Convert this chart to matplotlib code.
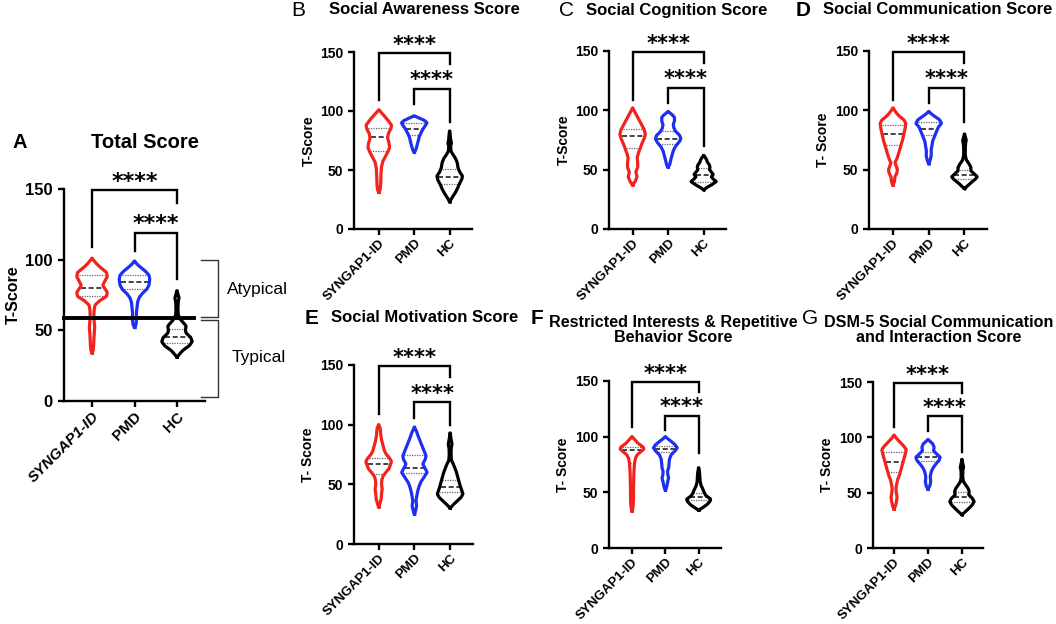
import numpy as np
import matplotlib.pyplot as plt

plt.rcParams['font.family'] = ['Liberation Sans', 'DejaVu Sans']

groups = ['SYNGAP1-ID', 'PMD', 'HC']
group_colors = ['#f2231c', '#1d30f2', '#000000']

# violin outlines: T-score levels and relative half-widths
# A - Total Score
total_syn_y = [34, 36, 42, 48, 52, 56, 60, 64, 68, 71, 74, 77, 80, 82, 85, 88, 91, 94, 97, 99, 101]
total_syn_w = [0, 0.08, 0.12, 0.14, 0.18, 0.14, 0.12, 0.13, 0.2, 0.5, 0.95, 1.0, 0.8, 0.7, 0.85, 1.0, 0.95, 0.6, 0.3, 0.15, 0]
total_pmd_y = [52, 54, 58, 62, 66, 70, 73, 76, 79, 82, 86, 89, 92, 95, 97, 99]
total_pmd_w = [0, 0.1, 0.14, 0.12, 0.16, 0.2, 0.3, 0.5, 0.8, 0.95, 1.0, 0.95, 0.7, 0.35, 0.15, 0]
total_hc_y = [31, 33, 36, 39, 42, 45, 48, 50, 53, 55, 58, 61, 65, 70, 73, 75, 78]
total_hc_w = [0, 0.15, 0.4, 0.8, 1.0, 0.9, 0.6, 0.55, 0.6, 0.45, 0.2, 0.08, 0.06, 0.08, 0.14, 0.08, 0]
total_median = [80, 84, 45]
total_q3 = [89.5, 89, 50.7]
total_q1 = [74, 79, 41.3]
total_hc_leg = 86
cutoff = 59

# B - Social Awareness
aware_syn_y = [31, 33, 38, 45, 52, 57, 61, 65, 69, 73, 77, 81, 85, 88, 91, 95, 98, 101]
aware_syn_w = [0, 0.1, 0.15, 0.16, 0.2, 0.3, 0.5, 0.7, 0.85, 0.8, 0.68, 0.75, 0.95, 1.0, 0.8, 0.5, 0.25, 0]
aware_pmd_y = [65, 67, 70, 74, 78, 82, 85, 88, 90, 92, 94, 96]
aware_pmd_w = [0, 0.12, 0.2, 0.3, 0.38, 0.55, 0.7, 0.9, 1.0, 0.8, 0.4, 0]
aware_hc_y = [23, 26, 30, 34, 38, 42, 45, 48, 52, 56, 60, 63, 66, 70, 73, 76, 80, 83]
aware_hc_w = [0, 0.15, 0.4, 0.6, 0.75, 0.95, 1.0, 0.8, 0.65, 0.6, 0.45, 0.25, 0.1, 0.07, 0.14, 0.07, 0.05, 0]
aware_median = [78, 85, 44]
aware_q3 = [86, 90, 51]
aware_q1 = [66, 80, 38.5]
aware_hc_leg = 91

# C - Social Cognition
cog_syn_y = [37, 40, 44, 48, 52, 56, 60, 64, 68, 72, 76, 80, 84, 88, 92, 96, 99, 102]
cog_syn_w = [0, 0.2, 0.35, 0.25, 0.4, 0.4, 0.35, 0.45, 0.6, 0.72, 0.9, 1.0, 0.9, 0.7, 0.5, 0.3, 0.15, 0]
cog_pmd_y = [52, 54, 58, 62, 66, 70, 73, 76, 79, 82, 85, 88, 91, 94, 96, 99]
cog_pmd_w = [0, 0.12, 0.2, 0.3, 0.4, 0.6, 0.85, 1.0, 0.9, 0.6, 0.45, 0.4, 0.5, 0.5, 0.35, 0]
cog_hc_y = [33, 35, 37, 40, 42, 44, 46, 48, 50, 52, 54, 56, 58, 60, 62]
cog_hc_w = [0, 0.25, 0.6, 1.0, 0.75, 0.6, 0.75, 0.6, 0.45, 0.5, 0.45, 0.3, 0.25, 0.15, 0]
cog_median = [78.4, 76.2, 45.2]
cog_q3 = [84.6, 83, 51.4]
cog_q1 = [68, 72, 40]
cog_hc_leg = 70

# D - Social Communication
comm_syn_y = [37, 40, 44, 47, 50, 53, 56, 59, 64, 70, 75, 80, 85, 89, 92, 95, 98, 102]
comm_syn_w = [0, 0.12, 0.15, 0.3, 0.35, 0.25, 0.15, 0.3, 0.45, 0.6, 0.75, 0.85, 0.95, 1.0, 0.85, 0.5, 0.25, 0]
comm_pmd_y = [55, 58, 62, 66, 70, 74, 78, 82, 86, 89, 92, 95, 97, 99]
comm_pmd_w = [0, 0.12, 0.2, 0.18, 0.25, 0.3, 0.45, 0.6, 0.75, 1.0, 0.85, 0.45, 0.2, 0]
comm_hc_y = [34, 36, 39, 42, 44, 46, 49, 52, 55, 58, 62, 68, 72, 75, 77, 80]
comm_hc_w = [0, 0.2, 0.5, 0.85, 1.0, 0.8, 0.5, 0.5, 0.35, 0.15, 0.06, 0.06, 0.08, 0.14, 0.08, 0]
comm_median = [80.4, 84.6, 45.2]
comm_q3 = [88, 90, 49.5]
comm_q1 = [71, 79, 41.9]
comm_hc_leg = 90

# E - Social Motivation
motiv_syn_y = [31, 34, 38, 42, 46, 50, 54, 57, 60, 63, 66, 69, 72, 75, 78, 82, 86, 90, 94, 97, 100]
motiv_syn_w = [0, 0.1, 0.2, 0.22, 0.28, 0.22, 0.25, 0.35, 0.55, 0.8, 0.9, 1.0, 0.85, 0.6, 0.45, 0.35, 0.25, 0.18, 0.15, 0.12, 0]
motiv_pmd_y = [25, 28, 32, 36, 40, 44, 48, 52, 56, 60, 63, 67, 71, 74, 78, 82, 86, 90, 94, 98]
motiv_pmd_w = [0, 0.1, 0.18, 0.12, 0.18, 0.25, 0.35, 0.5, 0.75, 1.0, 0.85, 0.65, 0.85, 0.9, 0.75, 0.6, 0.45, 0.3, 0.18, 0]
motiv_hc_y = [30, 33, 36, 39, 42, 45, 48, 52, 56, 60, 64, 67, 70, 75, 80, 84, 87, 93]
motiv_hc_w = [0, 0.25, 0.55, 0.85, 1.0, 0.9, 0.8, 0.7, 0.6, 0.5, 0.35, 0.25, 0.1, 0.07, 0.08, 0.15, 0.08, 0]
motiv_median = [66.8, 63.4, 47.5]
motiv_q3 = [71.8, 74.6, 53.6]
motiv_q1 = [58.7, 59.3, 43.8]
motiv_hc_leg = 100

# F - Restricted Interests & Repetitive Behavior
rrb_syn_y = [33, 36, 42, 50, 58, 66, 72, 77, 81, 84, 87, 89, 91, 94, 97, 100]
rrb_syn_w = [0, 0.08, 0.12, 0.12, 0.14, 0.15, 0.18, 0.22, 0.3, 0.45, 0.8, 1.0, 0.9, 0.5, 0.25, 0]
rrb_pmd_y = [52, 55, 59, 63, 66, 69, 72, 76, 80, 84, 87, 90, 93, 96, 98, 100]
rrb_pmd_w = [0, 0.12, 0.18, 0.28, 0.2, 0.18, 0.28, 0.3, 0.35, 0.5, 0.8, 1.0, 0.8, 0.45, 0.2, 0]
rrb_hc_y = [34, 36, 39, 42, 44, 47, 50, 53, 56, 60, 64, 68, 72]
rrb_hc_w = [0, 0.3, 0.7, 0.95, 1.0, 0.6, 0.45, 0.35, 0.2, 0.12, 0.1, 0.08, 0]
rrb_median = [88.3, 89, 45.8]
rrb_q3 = [90.6, 91.5, 49.4]
rrb_q1 = [76, 86, 43]
rrb_hc_leg = 85

# G - DSM-5 Social Communication and Interaction
dsm_syn_y = [35, 38, 42, 46, 50, 54, 58, 62, 66, 70, 74, 78, 82, 86, 89, 92, 96, 99, 102]
dsm_syn_w = [0, 0.12, 0.2, 0.25, 0.18, 0.15, 0.22, 0.3, 0.45, 0.55, 0.65, 0.75, 0.85, 0.95, 1.0, 0.8, 0.45, 0.2, 0]
dsm_pmd_y = [53, 56, 60, 64, 67, 70, 73, 76, 79, 82, 85, 88, 91, 94, 96, 98]
dsm_pmd_w = [0, 0.15, 0.22, 0.18, 0.22, 0.3, 0.45, 0.65, 0.9, 1.0, 0.7, 0.45, 0.5, 0.4, 0.2, 0]
dsm_hc_y = [30, 32, 35, 39, 42, 45, 48, 51, 54, 57, 60, 64, 70, 73, 76, 80]
dsm_hc_w = [0, 0.2, 0.5, 0.85, 1.0, 0.85, 0.55, 0.6, 0.5, 0.3, 0.12, 0.06, 0.07, 0.14, 0.07, 0]
dsm_median = [78, 82, 46.5]
dsm_q3 = [87, 87, 51]
dsm_q1 = [69, 78.7, 42]
dsm_hc_leg = 87

W, H = 1056, 624
fig = plt.figure(figsize=(W / 100, H / 100), dpi=100)


def px_axes(left, right, top, bottom):
    return fig.add_axes([left / W, 1 - bottom / H, (right - left) / W, (bottom - top) / H])


def fig_text(x, y, s, **kw):
    fig.text(x / W, 1 - y / H, s, **kw)


def outline(ys, ws):
    yy = np.linspace(ys[0], ys[-1], 400)
    ww = np.interp(yy, ys, ws)
    k = np.ones(7) / 7
    ww = np.convolve(np.pad(ww, 3), k, mode='valid')
    return yy, ww


def draw_panel(ax, profiles, med, q3, q1, hc_leg, xlim, big=False):
    half = 0.36
    for i, (ys, ws) in enumerate(profiles):
        pos = i + 1
        col = group_colors[i]
        yy, ww = outline(ys, ws)
        ww = np.maximum(ww, 0.02)
        xs = np.concatenate([pos + ww * half, (pos - ww * half)[::-1], [pos + ww[0] * half]])
        ys2 = np.concatenate([yy, yy[::-1], [yy[0]]])
        ax.plot(xs, ys2, color=col, lw=2.3, solid_joinstyle='round', zorder=3)
        for val, ls, c, lw in [(med[i], (0, (3, 1.6)), '#222222', 1.2),
                               (q3[i], (0, (1, 1)), '#666666', 0.9),
                               (q1[i], (0, (1, 1)), '#666666', 0.9)]:
            w = np.interp(val, yy, ww) * half * 0.9
            ax.plot([pos - w, pos + w], [val, val], color=c, lw=lw, ls=ls, zorder=2)

    ax.set_xlim(*xlim)
    ax.set_ylim(0, 150)
    ax.set_yticks([0, 50, 100, 150])
    ax.set_xticks([1, 2, 3])
    for s in ['top', 'right']:
        ax.spines[s].set_visible(False)
    for s in ['left', 'bottom']:
        ax.spines[s].set_linewidth(1.7)
    fs = 12 if big else 10
    xfs = 11 if big else 9.5
    ax.tick_params(axis='both', width=1.7, length=4.5, labelsize=fs)
    ax.tick_params(axis='x', pad=1.5)
    ax.set_xticklabels(groups, rotation=45, ha='right', rotation_mode='anchor',
                       fontweight='bold', fontsize=xfs)
    if big:
        ax.get_xticklabels()[0].set_fontstyle('italic')
    for lab in ax.get_yticklabels():
        lab.set_fontweight('bold')

    # significance brackets
    kw = dict(color='black', lw=1.7, clip_on=False, solid_joinstyle='miter', zorder=4)
    top, top_hc = (149, 140)
    ax.plot([1, 1, 3, 3], [109, top, top, top_hc], **kw)
    ax.plot([2, 2, 3, 3], [106, 119, 119, hc_leg], **kw)
    skw = dict(ha='center', va='baseline', fontsize=16 if big else 15, fontweight='bold',
               family='DejaVu Sans', clip_on=False)
    ax.text(2.0, top + 2.0, '****', **skw)
    ax.text(2.5, 119 + 2.0, '****', **skw)


# panel layout (pixel boxes of the plotting areas)
panels = [
    ('A', 'T-Score', (64, 205, 189, 401), (0.34, 3.66),
     [(total_syn_y, total_syn_w), (total_pmd_y, total_pmd_w), (total_hc_y, total_hc_w)],
     total_median, total_q3, total_q1, total_hc_leg),
    ('B', 'T-Score', (354, 472, 52, 229), (0.30, 3.63),
     [(aware_syn_y, aware_syn_w), (aware_pmd_y, aware_pmd_w), (aware_hc_y, aware_hc_w)],
     aware_median, aware_q3, aware_q1, aware_hc_leg),
    ('C', 'T-Score', (609, 726, 51, 229), (0.335, 3.63),
     [(cog_syn_y, cog_syn_w), (cog_pmd_y, cog_pmd_w), (cog_hc_y, cog_hc_w)],
     cog_median, cog_q3, cog_q1, cog_hc_leg),
    ('D', 'T- Score', (869, 987, 51, 229), (0.33, 3.63),
     [(comm_syn_y, comm_syn_w), (comm_pmd_y, comm_pmd_w), (comm_hc_y, comm_hc_w)],
     comm_median, comm_q3, comm_q1, comm_hc_leg),
    ('E', 'T- Score', (354, 473, 365, 544), (0.31, 3.64),
     [(motiv_syn_y, motiv_syn_w), (motiv_pmd_y, motiv_pmd_w), (motiv_hc_y, motiv_hc_w)],
     motiv_median, motiv_q3, motiv_q1, motiv_hc_leg),
    ('F', 'T- Score', (609, 721, 381, 548), (0.31, 3.67),
     [(rrb_syn_y, rrb_syn_w), (rrb_pmd_y, rrb_pmd_w), (rrb_hc_y, rrb_hc_w)],
     rrb_median, rrb_q3, rrb_q1, rrb_hc_leg),
    ('G', 'T- Score', (873, 983, 382, 548), (0.38, 3.62),
     [(dsm_syn_y, dsm_syn_w), (dsm_pmd_y, dsm_pmd_w), (dsm_hc_y, dsm_hc_w)],
     dsm_median, dsm_q3, dsm_q1, dsm_hc_leg),
]

axes = {}
for letter, ylab, box, xlim, profiles, med, q3, q1, leg in panels:
    ax = px_axes(*box)
    big = letter == 'A'
    draw_panel(ax, profiles, med, q3, q1, leg, xlim, big=big)
    ax.set_ylabel(ylab, fontweight='bold', fontsize=11.5 if big else 10, labelpad=3)
    axes[letter] = ax

# titles and panel letters
tkw = dict(ha='center', va='center', fontweight='bold')
fig_text(145, 142, 'Total Score', fontsize=14.5, **tkw)
fig_text(20, 142, 'A', fontsize=14.5, **tkw)
fig_text(424, 10, 'Social Awareness Score', fontsize=12, **tkw)
fig_text(298, 10, 'B', ha='center', va='center', fontsize=15)
fig_text(677, 10, 'Social Cognition Score', fontsize=12, **tkw)
fig_text(566, 10, 'C', ha='center', va='center', fontsize=15)
fig_text(938, 10, 'Social Communication Score', fontsize=12, **tkw)
fig_text(803, 10, 'D', fontsize=15, **tkw)
fig_text(425, 318, 'Social Motivation Score', fontsize=12, **tkw)
fig_text(312, 318, 'E', fontsize=15, **tkw)
fig_text(673, 330, 'Restricted Interests & Repetitive\nBehavior Score', fontsize=11.6,
         linespacing=1.05, **tkw)
fig_text(537, 318, 'F', fontsize=15, **tkw)
fig_text(939, 330, 'DSM-5 Social Communication\nand Interaction Score', fontsize=11.6,
         linespacing=1.05, **tkw)
fig_text(810, 318, 'G', ha='center', va='center', fontsize=15)

# cutoff line and Atypical / Typical brackets on panel A
axA = axes['A']
axA.plot([0.34, 3.4], [cutoff, cutoff], color='black', lw=2.8, zorder=5, clip_on=False)
bk = dict(color='#333333', lw=1.0, clip_on=False)
axA.plot([3.56, 3.97, 3.97, 3.56], [99.5, 99.5, 59.5, 59.5], **bk)
axA.plot([3.56, 3.97, 3.97, 3.56], [57.5, 57.5, 3, 3], **bk)
axA.text(4.9, 79, 'Atypical', ha='center', va='center', fontsize=12.5, clip_on=False)
axA.text(4.92, 31, 'Typical', ha='center', va='center', fontsize=12.5, clip_on=False)

fig.savefig('out.png', dpi=100)
